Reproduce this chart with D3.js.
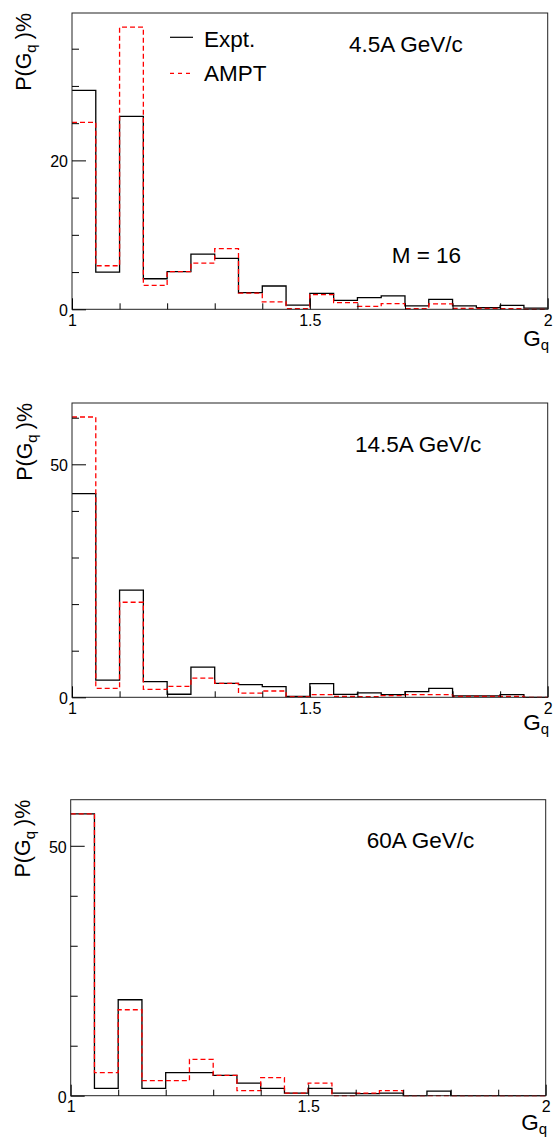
<!DOCTYPE html>
<html>
<head>
<meta charset="utf-8">
<script src="https://cdn.jsdelivr.net/npm/d3@7"></script>
<style>
  html, body { margin: 0; padding: 0; background: #fff; }
  svg { display: block; font-family: "Liberation Sans", Arial, Helvetica, sans-serif; }
</style>
</head>
<body>
<svg id="chart" width="556" height="1139"></svg>
<script>
// G_q bin edges (20 bins of width 0.05 between 1 and 2)
const binEdges = [1.00, 1.05, 1.10, 1.15, 1.20, 1.25, 1.30, 1.35, 1.40, 1.45, 1.50,
                  1.55, 1.60, 1.65, 1.70, 1.75, 1.80, 1.85, 1.90, 1.95, 2.00];

// P(G_q) in percent, M = 16
const expt45  = [29.4, 5.0, 25.9, 4.1, 5.05, 7.4, 6.85, 2.25, 3.13, 0.55,
                 2.15, 1.2, 1.57, 1.79, 0.45, 1.34, 0.45, 0.22, 0.54, 0.15];
const ampt45  = [25.1, 5.85, 37.9, 3.2, 5.05, 6.2, 8.15, 2.17, 1.0, 0.1,
                 1.97, 0.9, 0.4, 0.76, 0.1, 0.72, 0.13, 0.13, 0.1, 0.0];

const expt145 = [43.7, 3.7, 23.0, 3.35, 0.65, 6.47, 3.0, 2.7, 2.3, 0.22,
                 2.95, 0.64, 0.93, 0.57, 1.2, 1.93, 0.29, 0.29, 0.57, 0.0];
const ampt145 = [60.15, 1.93, 20.4, 1.7, 2.36, 4.1, 3.0, 0.9, 1.35, 0.14,
                 0.57, 0.21, 0.14, 0.36, 0.57, 0.57, 0.21, 0.21, 0.21, 0.0];

const expt60  = [56.4, 1.47, 19.2, 1.47, 4.6, 4.6, 4.07, 2.53, 1.47, 0.5,
                 1.47, 0.5, 0.4, 0.5, 0.0, 0.93, 0.0, 0.0, 0.0, 0.0];
const ampt60  = [56.4, 4.6, 17.2, 3.0, 3.0, 7.27, 4.07, 1.0, 3.6, 0.5,
                 2.53, 0.0, 0.5, 1.0, 0.0, 0.0, 0.0, 0.0, 0.0, 0.0];

const beamLabels = ["4.5A GeV/c", "14.5A GeV/c", "60A GeV/c"];
const multiplicityLabel = "M = 16";
const legendLabels = ["Expt.", "AMPT"];

// axis ticks
const xMajorTicks = [1, 1.5, 2];
const xTickLabels = ["1", "1.5", "2"];
const xMinorTicks = [1.1, 1.2, 1.3, 1.4, 1.6, 1.7, 1.8, 1.9];
const yMajorTicks45 = [0, 20];
const yMinorTicks45 = [5, 10, 15, 25, 30, 35];
const yMajorTicks145 = [0, 50];
const yMinorTicks145 = [10, 20, 30, 40, 60];
const yMajorTicks60 = [0, 50];
const yMinorTicks60 = [10, 20, 30, 40];

// page layout for the three stacked pads
const pads = [
  { expt: expt45,  ampt: ampt45,  label: beamLabels[0], yMajor: yMajorTicks45,  yMinor: yMinorTicks45,
    frame: { l: 72,   t: 13,    r: 547.7, b: 309.3 },
    labelPos: [349, 52.3], xTitleY: 345.5, yTitleX: 30.5, legend: true, mult: [391.7, 263.3] },
  { expt: expt145, ampt: ampt145, label: beamLabels[1], yMajor: yMajorTicks145, yMinor: yMinorTicks145,
    frame: { l: 72,   t: 403,   r: 547.7, b: 697.3 },
    labelPos: [355, 452.3], xTitleY: 730, yTitleX: 32 },
  { expt: expt60,  ampt: ampt60,  label: beamLabels[2], yMajor: yMajorTicks60,  yMinor: yMinorTicks60,
    frame: { l: 70.7, t: 799.7, r: 545.7, b: 1095.7 },
    labelPos: [366.7, 848.3], xTitleY: 1129.5, yTitleX: 29.5 }
];

const svg = d3.select("#chart");
const tickFont = 16;
const textFont = 22.5;

pads.forEach(p => {
  const f = p.frame;
  const ymax = 1.05 * d3.max(p.expt.concat(p.ampt));
  const x = d3.scaleLinear().domain([1, 2]).range([f.l, f.r]);
  const y = d3.scaleLinear().domain([0, ymax]).range([f.b, f.t]);

  const g = svg.append("g");

  // histograms as step outlines
  const step = d3.line().x(d => x(d[0])).y(d => y(d[1])).curve(d3.curveStepAfter);
  const pts = vals => binEdges.map((e, i) => [e, vals[Math.min(i, vals.length - 1)]]);

  g.append("path").attr("d", step(pts(p.expt)))
    .attr("fill", "none").attr("stroke", "#000").attr("stroke-width", 1.3);
  g.append("path").attr("d", step(pts(p.ampt)))
    .attr("fill", "none").attr("stroke", "#ff0000").attr("stroke-width", 1.3)
    .attr("stroke-dasharray", "5,3");

  // frame
  g.append("rect").attr("x", f.l).attr("y", f.t)
    .attr("width", f.r - f.l).attr("height", f.b - f.t)
    .attr("fill", "none").attr("stroke", "#222").attr("stroke-width", 1);

  // x axis (ticks point into the frame)
  g.append("g").attr("transform", `translate(0,${f.b})`)
    .call(d3.axisBottom(x).tickValues(xMajorTicks).tickSize(-11).tickPadding(5)
      .tickFormat((d, i) => xTickLabels[i]));
  g.append("g").attr("transform", `translate(0,${f.b})`)
    .call(d3.axisBottom(x).tickValues(xMinorTicks).tickSize(-6).tickFormat(""));

  // y axis
  const ya = g.append("g").attr("transform", `translate(${f.l},0)`)
    .call(d3.axisLeft(y).tickValues(p.yMajor).tickSize(-14).tickPadding(4)
      .tickFormat(d3.format("d")));
  g.append("g").attr("transform", `translate(${f.l},0)`)
    .call(d3.axisLeft(y).tickValues(p.yMinor).tickSize(-7).tickFormat(""));

  g.selectAll(".domain").remove();
  g.selectAll(".tick line").attr("stroke", "#000").attr("stroke-width", 1);
  g.selectAll(".tick text").attr("font-size", tickFont).attr("fill", "#000")
    .attr("font-family", "Liberation Sans, Arial, sans-serif");
  ya.selectAll(".tick text").attr("dy", "0.4em");

  // x-axis title G_q
  const xt = g.append("text").attr("x", f.r + 1.5).attr("y", p.xTitleY)
    .attr("text-anchor", "end").attr("font-size", textFont).attr("fill", "#000");
  xt.append("tspan").text("G");
  xt.append("tspan").attr("font-size", 15).attr("dy", 4).text("q");

  // y-axis title P(G_q)%
  const yt = g.append("text")
    .attr("transform", `translate(${p.yTitleX},${f.t}) rotate(-90)`)
    .attr("text-anchor", "end").attr("font-size", 21.5).attr("fill", "#000");
  yt.append("tspan").text("P(G");
  yt.append("tspan").attr("font-size", 15).attr("dy", 5).text("q");
  yt.append("tspan").attr("dy", -5).attr("dx", 5).text(")%");

  // beam momentum label
  g.append("text").attr("x", p.labelPos[0]).attr("y", p.labelPos[1])
    .attr("font-size", textFont).attr("fill", "#000").text(p.label);

  if (p.mult) {
    g.append("text").attr("x", p.mult[0]).attr("y", p.mult[1])
      .attr("font-size", textFont).attr("fill", "#000").text(multiplicityLabel);
  }

  if (p.legend) {
    const lg = g.append("g");
    const rows = [
      { label: legendLabels[0], color: "#000", dash: null, ly: 37.3, ty: 46.7 },
      { label: legendLabels[1], color: "#ff0000", dash: "4,4", ly: 73.3, ty: 81 }
    ];
    rows.forEach(r => {
      lg.append("line").attr("x1", 170).attr("x2", 193).attr("y1", r.ly).attr("y2", r.ly)
        .attr("stroke", r.color).attr("stroke-width", 1.2)
        .attr("stroke-dasharray", r.dash);
      lg.append("text").attr("x", 204).attr("y", r.ty)
        .attr("font-size", textFont).attr("fill", "#000").text(r.label);
    });
  }
});
</script>
</body>
</html>
